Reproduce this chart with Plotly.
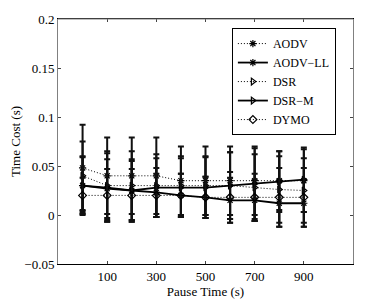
import plotly.graph_objects as go

pause = [0, 100, 200, 300, 400, 500, 600, 700, 800, 900]
x_ticks = [100, 300, 500, 700, 900]
y_ticks = [-0.05, 0, 0.05, 0.1, 0.15, 0.2]
y_tick_labels = ["\u22120.05", "0", "0.05", "0.1", "0.15", "0.2"]

aodv = [0.048, 0.040, 0.040, 0.040, 0.035, 0.035, 0.035, 0.035, 0.035, 0.035]
aodv_err = [0.044, 0.039, 0.039, 0.039, 0.035, 0.035, 0.035, 0.035, 0.030, 0.032]
aodv_ll = [0.030, 0.027, 0.025, 0.023, 0.020, 0.018, 0.015, 0.015, 0.012, 0.012]
aodv_ll_err = [0.029, 0.030, 0.030, 0.025, 0.022, 0.021, 0.023, 0.021, 0.024, 0.024]
dsr = [0.040, 0.030, 0.030, 0.030, 0.030, 0.030, 0.030, 0.028, 0.026, 0.025]
dsr_err = [0.035, 0.035, 0.035, 0.032, 0.030, 0.030, 0.034, 0.034, 0.034, 0.033]
dsr_m = [0.030, 0.028, 0.025, 0.028, 0.028, 0.028, 0.030, 0.032, 0.034, 0.036]
dsr_m_err = [0.030, 0.035, 0.032, 0.030, 0.030, 0.031, 0.034, 0.036, 0.031, 0.033]
dymo = [0.020, 0.020, 0.020, 0.020, 0.020, 0.018, 0.018, 0.018, 0.018, 0.018]
dymo_err = [0.018, 0.027, 0.027, 0.022, 0.022, 0.021, 0.026, 0.024, 0.030, 0.030]

series = [
    ("AODV", aodv, aodv_err, "1px,2px", 1, "asterisk-open"),
    ("AODV\u2212LL", aodv_ll, aodv_ll_err, "solid", 1.8, "asterisk-open"),
    ("DSR", dsr, dsr_err, "1px,2px", 1, "triangle-right-open"),
    ("DSR\u2212M", dsr_m, dsr_m_err, "solid", 1.8, "triangle-right-open"),
    ("DYMO", dymo, dymo_err, "1px,2px", 1, "diamond-open"),
]

fig = go.Figure()
for name, vals, err, dash, lw, sym in series:
    fig.add_trace(go.Scatter(
        x=pause, y=vals, name=name, mode="lines+markers",
        line=dict(color="black", width=lw, dash=dash),
        marker=dict(symbol=sym, size=6, color="black", line=dict(color="black", width=1.2)),
        error_y=dict(type="data", array=err, visible=True, color="#111", thickness=2, width=3),
    ))

# the page body has an 8px default margin, so the figure is sized to fit inside the window
font = "Times New Roman, Liberation Serif, serif"
fig.update_layout(
    width=374, height=293,
    margin=dict(l=50, r=29, t=11, b=37, autoexpand=False),
    paper_bgcolor="white", plot_bgcolor="white",
    font=dict(family=font, size=13, color="black"),
    showlegend=True,
    legend=dict(x=0.942, y=0.963, xanchor="right", yanchor="top",
                bgcolor="white", bordercolor="black", borderwidth=1,
                font=dict(family=font, size=12), tracegroupgap=0,
                itemwidth=30),
    xaxis=dict(range=[-100, 1100], tickvals=x_ticks, ticks="inside", ticklen=3,
               showline=True, linecolor="black", linewidth=1, mirror="ticks",
               showgrid=False, zeroline=False, automargin=False,
               title=dict(text="Pause Time (s)", standoff=0, font=dict(size=13))),
    yaxis=dict(range=[-0.05, 0.2], tickvals=y_ticks, ticktext=y_tick_labels,
               ticks="inside", ticklen=3,
               showline=True, linecolor="#808080", linewidth=1, mirror="ticks",
               showgrid=False, zeroline=False, automargin=False,
               title=dict(text="Time Cost (s)", standoff=4, font=dict(size=13))),
)
fig.add_shape(type="line", xref="paper", yref="paper", x0=0, x1=1, y0=1, y1=1,
              line=dict(color="#808080", width=1), layer="above")
fig.write_html("out.html")
